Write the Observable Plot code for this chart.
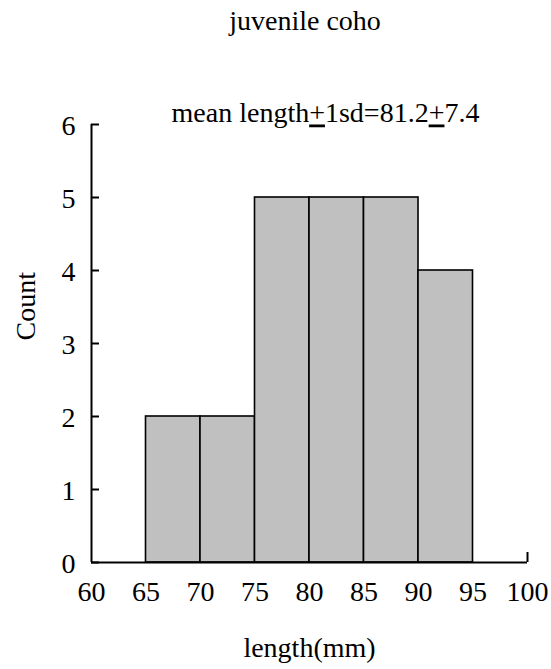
<!DOCTYPE html>
<html><head><meta charset="utf-8">
<script src="https://cdn.jsdelivr.net/npm/d3@7"></script>
<script src="https://cdn.jsdelivr.net/npm/@observablehq/plot@0.6"></script>
<style>
body{margin:0;background:#fff;}
svg, svg text, svg tspan {font-family:"Liberation Serif","Times New Roman",serif !important;}
g[aria-label="x-axis tick label"] text, g[aria-label="y-axis tick label"] text {font-size:28px !important;}
.annot text {font-size:28px !important;}
.ttl text {font-size:28px !important;}
.axt text {font-size:28px !important;}
</style>
</head><body><div id="chart"></div>
<script>
const binStarts = [65, 70, 75, 80, 85, 90];
const binWidth = 5;
const counts = [2, 2, 5, 5, 5, 4];
const xTicks = [60, 65, 70, 75, 80, 85, 90, 95, 100];
const yTicks = [0, 1, 2, 3, 4, 5, 6];
const title = "juvenile coho";
const annotation = "mean length±1sd=81.2±7.4";
const xLabel = "length(mm)";
const yLabel = "Count";

const bins = binStarts.map((s, i) => ({x1: s, x2: s + binWidth, count: counts[i]}));

const chart = Plot.plot({
  width: 551, height: 669,
  marginLeft: 91, marginRight: 24, marginTop: 124, marginBottom: 107,
  style: {fontFamily: "Liberation Serif, serif", fontSize: "28px", background: "#fff", color: "#000"},
  x: {domain: [60, 100]},
  y: {domain: [0, 6]},
  marks: [
    Plot.rectY(bins, {x1: "x1", x2: "x2", y: "count", fill: "#c0c0c0", stroke: "#000", strokeWidth: 1.6}),
    Plot.ruleY([0], {x1: 60, x2: 100, stroke: "#000", strokeWidth: 2}),
    Plot.ruleX([60], {y1: 0, y2: 6, stroke: "#000", strokeWidth: 2}),
    Plot.axisY({ticks: yTicks, tickSize: -8, strokeWidth: 2, tickFormat: () => "", label: null}),
    Plot.axisY({ticks: yTicks, tickSize: 0, tickPadding: 16, dy: 2, fontSize: 28, tickFormat: d => String(d), label: null}),
    Plot.axisX({ticks: xTicks, tickSize: 0, tickPadding: 19, fontSize: 28, tickFormat: d => String(d), label: null}),
    Plot.axisX({ticks: [100], tickSize: -10, strokeWidth: 2, tickFormat: () => "", label: null}),
    Plot.text([title], {frameAnchor: "top", lineAnchor: "middle", dy: -103, dx: -4.5, fontSize: 28, className: "ttl"}),
    Plot.text([annotation], {frameAnchor: "top", lineAnchor: "middle", dy: -11, dx: 16, fontSize: 28, className: "annot"}),
    Plot.text([xLabel], {frameAnchor: "bottom", lineAnchor: "middle", dy: 86, dx: 0, fontSize: 28, className: "axt"}),
    Plot.text([yLabel], {frameAnchor: "left", lineAnchor: "middle", rotate: -90, dx: -65, dy: -3, fontSize: 28, className: "axt"})
  ]
});
document.getElementById("chart").append(chart);

// render ± as an underlined plus, as in the original
d3.select(chart).selectAll(".annot text").each(function() {
  const t = d3.select(this);
  const s = t.text();
  if (!s.includes("±")) return;
  t.text(null);
  s.split(/(±)/).forEach(part => {
    if (part === "±") t.append("tspan").attr("text-decoration", "underline").text("+");
    else if (part) t.append("tspan").text(part);
  });
});
</script></body></html>
